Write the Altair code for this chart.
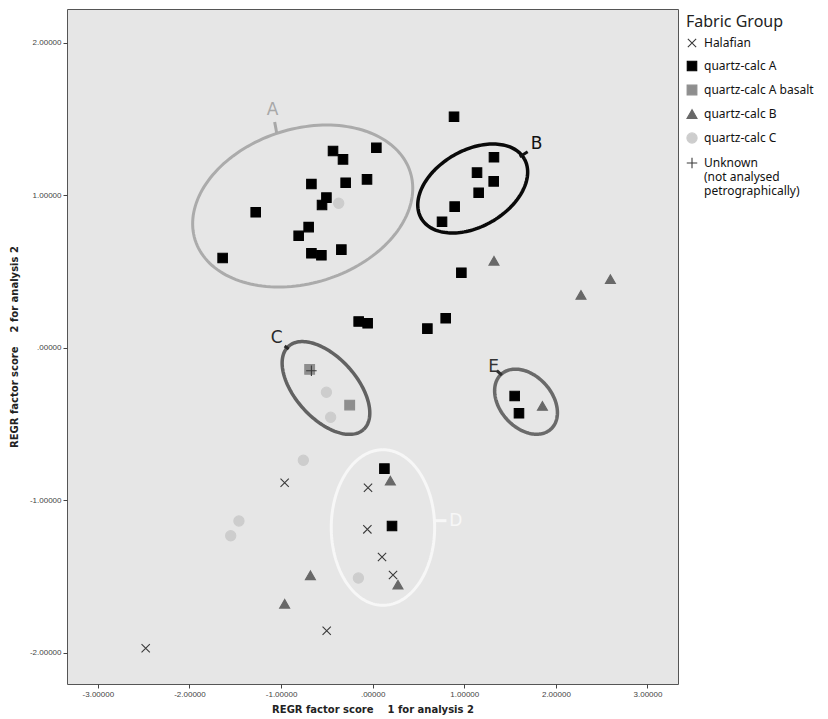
import altair as alt
import numpy as np
import pandas as pd

# ---------------- data ----------------
groups = ["Halafian", "quartz-calc A", "quartz-calc A basalt", "quartz-calc B",
          "quartz-calc C", "Unknown"]

halafian_x = [-0.961, -0.051, -0.058, 0.102, 0.222, -0.502, -2.478]
halafian_y = [-0.885, -0.918, -1.191, -1.372, -1.490, -1.856, -1.971]

qca_x = [-0.433, -0.324, 0.040, -0.669, -0.295, -0.062, -0.505, -0.553, -1.277,
         -0.699, -0.808, -0.669, -0.560, -0.342, -1.638,
         0.888, 1.324, 1.139, 1.321, 1.157, 0.895, 0.757, 0.968, 0.797, 0.597,
         -0.153, -0.055, 1.550, 1.597, 0.128, 0.211]
qca_y = [1.290, 1.235, 1.311, 1.073, 1.082, 1.104, 0.984, 0.936, 0.888,
         0.791, 0.734, 0.619, 0.606, 0.643, 0.588,
         1.515, 1.249, 1.148, 1.091, 1.016, 0.925, 0.826, 0.492, 0.193, 0.125,
         0.172, 0.160, -0.317, -0.430, -0.793, -1.169]

basalt_x = [-0.688, -0.251]
basalt_y = [-0.142, -0.376]

qcb_x = [1.324, 2.595, 2.274, 1.853, 0.193, 0.276, -0.680, -0.961]
qcb_y = [0.570, 0.450, 0.346, -0.382, -0.872, -1.554, -1.492, -1.679]

qcc_x = [-0.371, -0.505, -0.459, -0.757, -1.460, -1.550, -0.156]
qcc_y = [0.947, -0.292, -0.456, -0.738, -1.136, -1.233, -1.510]

unknown_x = [-0.669]
unknown_y = [-0.151]

# ellipse annotations: name, center x, center y, axis u (dx, dy), axis v (dx, dy)
ell_names = ["A", "B", "C", "D", "E"]
ell_cx = [-0.764, 1.092, -0.510, 0.112, 1.674]
ell_cy = [0.929, 1.044, -0.264, -1.179, -0.354]
ell_ux = [1.1744, 0.5625, 0.4091, 0.0, 0.2703]
ell_uy = [0.2224, 0.1951, -0.2729, 0.5102, -0.1803]
ell_vx = [-0.2531, -0.2085, 0.2482, -0.5644, 0.2109]
ell_vy = [0.4822, 0.2169, 0.1343, 0.0, 0.1141]
ell_colors = ["#ababab", "#0a0a0a", "#626262", "#f7f7f7", "#6a6a6a"]
ell_widths = [3, 3.5, 3.5, 3, 3.5]

# ellipse labels and their small connector ticks
lab_x = [-1.092, 1.790, -1.048, 0.906, 1.321]
lab_y = [1.559, 1.336, 0.064, -1.136, -0.127]
tick_x1 = [-1.070, 1.605, -0.961, 0.677, 1.355]
tick_y1 = [1.480, 1.252, 0.011, -1.134, -0.150]
tick_x2 = [-1.048, 1.692, -0.917, 0.805, 1.410]
tick_y2 = [1.408, 1.285, -0.009, -1.134, -0.180]
lab_colors = ["#a8a8a8", "#111111", "#2a2a2a", "#f7f7f7", "#333333"]

# ---------------- tables ----------------
rows = []
for g, xs_, ys_ in [("Halafian", halafian_x, halafian_y),
                    ("quartz-calc A", qca_x, qca_y),
                    ("quartz-calc A basalt", basalt_x, basalt_y),
                    ("quartz-calc B", qcb_x, qcb_y),
                    ("quartz-calc C", qcc_x, qcc_y),
                    ("Unknown", unknown_x, unknown_y)]:
    for x, y in zip(xs_, ys_):
        rows.append({"x": x, "y": y, "g": g})
pts = pd.DataFrame(rows)

t = np.linspace(0, 2 * np.pi, 161)

XDOM = [-3.337, 3.333]
YDOM = [-2.205, 2.221]
FONT = "DejaVu Sans"
LFONT = "Noto Sans"

xs = alt.Scale(domain=XDOM, nice=False, zero=False)
ys = alt.Scale(domain=YDOM, nice=False, zero=False)

lab_expr = "(datum.value < 0 ? '-' : '') + (datum.value == 0 ? '.00000' : format(abs(datum.value), '.5f'))"

xenc = alt.X("x:Q", scale=xs,
             axis=alt.Axis(values=[-3, -2, -1, 0, 1, 2, 3], labelExpr=lab_expr,
                           title="REGR factor score\u00a0\u00a0\u00a0 1 for analysis 2"))
yenc = alt.Y("y:Q", scale=ys,
             axis=alt.Axis(values=[-2, -1, 0, 1, 2], labelExpr=lab_expr,
                           title="REGR factor score\u00a0\u00a0\u00a0 2 for analysis 2"))

shape_range = ["M-0.9,-0.9L0.9,0.9M-0.9,0.9L0.9,-0.9", "square", "square",
               "triangle-up", "circle", "M-1,0L1,0M0,-1L0,1"]
col_range = ["#3a3a3a", "#000000", "#8e8e8e", "#686868", "#cdcdcd", "#3a3a3a"]
size_range = [85, 110, 110, 55, 120, 150]

legend = alt.Legend(title="Fabric Group", orient="none", legendX=619, legendY=5,
                    titleFontSize=16, titleFontWeight="normal", titleColor="#222",
                    titleFont=LFONT, labelFont=LFONT, labelFontSize=12, labelColor="#111",
                    symbolSize=380, symbolStrokeWidth=1.1, rowPadding=9, titlePadding=7,
                    labelOffset=6, labelLimit=200,
                    labelExpr="datum.label == 'Unknown' ? ['Unknown', '(not analysed', ' petrographically)'] : datum.label")

points = alt.Chart(pts).mark_point(filled=True, opacity=1, strokeWidth=1.1).encode(
    x=xenc, y=yenc,
    shape=alt.Shape("g:N", scale=alt.Scale(domain=groups, range=shape_range), legend=legend),
    color=alt.Color("g:N", scale=alt.Scale(domain=groups, range=col_range), legend=legend),
    stroke=alt.Stroke("g:N", scale=alt.Scale(domain=groups, range=col_range), legend=legend),
    size=alt.Size("g:N", scale=alt.Scale(domain=groups, range=size_range), legend=None),
)

layers = []
for i, n in enumerate(ell_names):
    df = pd.DataFrame({
        "x": ell_cx[i] + np.cos(t) * ell_ux[i] + np.sin(t) * ell_vx[i],
        "y": ell_cy[i] + np.cos(t) * ell_uy[i] + np.sin(t) * ell_vy[i],
        "o": np.arange(len(t)),
    })
    layers.append(
        alt.Chart(df).mark_line(color=ell_colors[i], strokeWidth=ell_widths[i])
        .encode(x=alt.X("x:Q", scale=xs), y=alt.Y("y:Q", scale=ys), order="o:Q")
    )
    tdf = pd.DataFrame({"x": [tick_x1[i]], "y": [tick_y1[i]],
                        "x2": [tick_x2[i]], "y2": [tick_y2[i]], "t": [n],
                        "lx": [lab_x[i]], "ly": [lab_y[i]]})
    layers.append(
        alt.Chart(tdf).mark_rule(strokeWidth=3, color=lab_colors[i])
        .encode(x=alt.X("x:Q", scale=xs), y=alt.Y("y:Q", scale=ys), x2="x2:Q", y2="y2:Q")
    )
    layers.append(
        alt.Chart(tdf).mark_text(font=FONT, fontSize=17, align="center", baseline="middle",
                                 color=lab_colors[i])
        .encode(x=alt.X("lx:Q", scale=xs), y=alt.Y("ly:Q", scale=ys), text="t:N")
    )
layers.append(points)

chart = alt.layer(*layers).properties(
    width=611, height=675,
    autosize=alt.AutoSizeParams(type="none"),
    padding={"left": 59, "top": 1, "right": 142, "bottom": 34},
    background="white",
).configure_view(
    fill="#e6e6e6", stroke="#555555", strokeWidth=1
).configure_axis(
    grid=False, domain=False, labelFont="Liberation Sans", labelFontSize=8,
    labelColor="#444", tickColor="#444", tickSize=4, labelPadding=2,
    titleFont=FONT, titleFontSize=10, titleFontWeight="bold", titleColor="#222"
).configure_axisX(titlePadding=6).configure_axisY(titlePadding=10)

chart.save("out.html", embed_options={"renderer": "svg", "actions": False})
